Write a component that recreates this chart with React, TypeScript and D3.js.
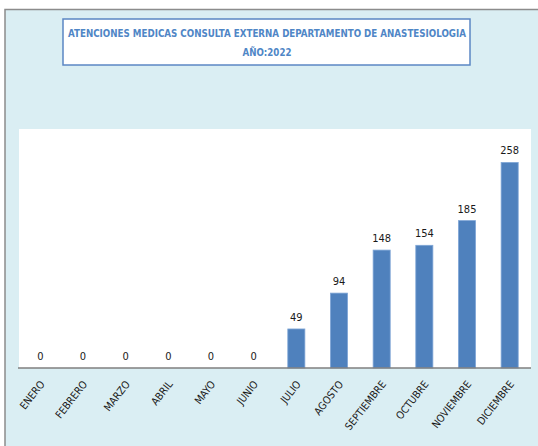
import React from "react";
import * as d3 from "d3";

const months = ["ENERO","FEBRERO","MARZO","ABRIL","MAYO","JUNIO","JULIO","AGOSTO","SEPTIEMBRE","OCTUBRE","NOVIEMBRE","DICIEMBRE"];
const values = [0,0,0,0,0,0,49,94,148,154,185,258];
const titleLines = ["ATENCIONES MEDICAS CONSULTA EXTERNA  DEPARTAMENTO DE ANASTESIOLOGIA", "AÑO:2022"];

const W = 538, H = 446;
const plot = { left: 19, right: 531, top: 129, bottom: 368 };

export default function App() {
  const x = d3.scaleBand<string>().domain(months).range([plot.left, plot.right]).paddingInner(0.6).paddingOuter(0.3);
  const y = d3.scaleLinear().domain([0, 300]).range([plot.bottom, plot.top]);
  const font = "'DejaVu Sans Condensed', 'Liberation Sans Narrow', 'Liberation Sans', sans-serif";
  return (
    <svg width={W} height={H} style={{ position: "absolute", left: 0, top: 0 }}>
      <rect x={0} y={0} width={W} height={H} fill="#ffffff" />
      <rect x={5} y={9.5} width={W} height={H} fill="#DAEEF3" stroke="#8c8c8c" strokeWidth={1.5} />
      <rect x={plot.left} y={plot.top} width={plot.right - plot.left} height={plot.bottom - plot.top} fill="#ffffff" />
      <rect x={63} y={19} width={407} height={46} fill="#ffffff" stroke="#5b87c4" strokeWidth={1.5} />
      <text x={267} y={37} textAnchor="middle" fontFamily={font} fontWeight="bold" fontSize={11} fill="#4f86c6" textLength={398} lengthAdjust="spacingAndGlyphs">{titleLines[0]}</text>
      <text x={267} y={56} textAnchor="middle" fontFamily={font} fontWeight="bold" fontSize={11} fill="#4f86c6" textLength={49} lengthAdjust="spacingAndGlyphs">{titleLines[1]}</text>
      {months.map((m, i) => (
        <rect key={m} x={x(m)} y={y(values[i])} width={x.bandwidth()} height={plot.bottom - y(values[i])} fill="#4f81bd" stroke="#7fa6d6" strokeWidth={0.8} />
      ))}
      <line x1={plot.left - 1} x2={plot.right} y1={plot.bottom} y2={plot.bottom} stroke="#7f7f7f" strokeWidth={1.5} />
      {months.map((m, i) => (
        <text key={"v" + m} x={(x(m) as number) + x.bandwidth() / 2} y={y(values[i]) - 8} textAnchor="middle" fontFamily={font} fontSize={11} fill="#1a1a1a">{values[i]}</text>
      ))}
      {months.map((m) => {
        const cx = (x(m) as number) + x.bandwidth() / 2;
        return (
          <text key={"l" + m} transform={`translate(${cx + 2},${plot.bottom + 14}) rotate(-52)`} textAnchor="end" dy="0.35em" fontFamily={font} fontSize={10.5} fill="#1a1a1a">{m}</text>
        );
      })}
    </svg>
  );
}
